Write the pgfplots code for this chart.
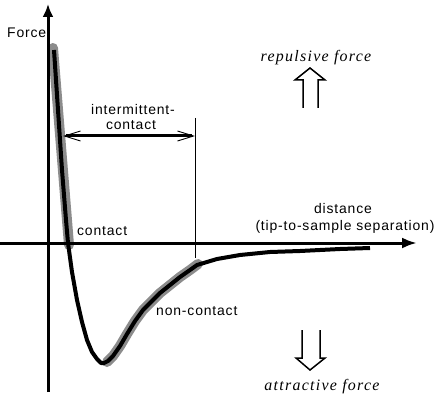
\documentclass[border=0pt]{standalone}
\usepackage{pgfplots}
\pgfplotsset{compat=1.18}
\usetikzlibrary{arrows.meta}
\usepackage{fontspec}
\setmainfont{Liberation Sans}[LetterSpace=6]
\newfontfamily\serifit{Liberation Serif}[LetterSpace=8]
\definecolor{band}{RGB}{140,140,140}
\begin{document}
\begin{tikzpicture}
\begin{axis}[
  scale only axis, width=440bp, height=402bp,
  xmin=-48, xmax=392, ymin=-159, ymax=243,
  hide axis, clip=false,
]
% grey highlighted regions
\addplot[band, line width=10bp, line cap=round] coordinates {(5,195) (21,-2)};
\addplot[band, line width=10bp, line cap=round] coordinates {
(59,-119) (65,-113) (72,-103) (79,-91) (87,-78) (95,-67) (104,-58) (112,-50) (122,-42) (132,-34) (142,-27) (150,-21)};
% axes
\draw[line width=3bp, -{Latex[length=15bp,width=11bp]}] (axis cs:-48,0) -- (axis cs:369,0);
\draw[line width=3bp, -{Latex[length=13bp,width=11bp]}] (axis cs:0,-149) -- (axis cs:0,239);
% force curve
\addplot[black, line width=4bp, line join=round] coordinates {
(6,193) (10,133) (14,73) (18,23) (20,0) (24,-29) (29,-57) (34,-79) (39,-97) (44,-109) (49,-116) (53,-120) (56,-120) (60,-118) (65,-113) (72,-103) (79,-91) (87,-78) (95,-67) (104,-58) (112,-50) (122,-42) (132,-34) (142,-27) (149,-22) (159,-19) (169,-16) (192,-12) (222,-9) (252,-8) (292,-6) (322,-5)};
% intermittent-contact marker
\draw[line width=1bp] (axis cs:147,125) -- (axis cs:147,-15);
\draw[line width=3bp] (axis cs:18,107) -- (axis cs:144,107);
\draw[line width=0.9bp, {Straight Barb[length=16bp,width=10bp]}-{Straight Barb[length=16bp,width=10bp]}] (axis cs:15,107) -- (axis cs:147,107);
% repulsive/attractive arrows
\draw[line width=1.5bp, line join=miter] (axis cs:255,135) -- (axis cs:255,163) -- (axis cs:247,163) -- (axis cs:262,175) -- (axis cs:277,163) -- (axis cs:270,163) -- (axis cs:270,135);
\draw[line width=1.5bp, line join=miter] (axis cs:254,-87) -- (axis cs:254,-115) -- (axis cs:248,-115) -- (axis cs:262,-127) -- (axis cs:277,-115) -- (axis cs:272,-115) -- (axis cs:272,-87);
% labels
\begin{scope}[font=\fontsize{14}{16}\selectfont]
\node[anchor=base west, inner sep=0pt] at (axis cs:-41,205) {Force};
\node[anchor=base, inner sep=0pt] at (axis cs:85,128) {intermittent-};
\node[anchor=base, inner sep=0pt] at (axis cs:83,113) {contact};
\node[anchor=base west, inner sep=0pt] at (axis cs:29,8) {contact};
\node[anchor=base west, inner sep=0pt] at (axis cs:108,-72) {non-contact};
\node[anchor=base, inner sep=0pt] at (axis cs:295,30) {distance};
\node[anchor=base, inner sep=0pt] at (axis cs:297,13) {(tip-to-sample separation)};
\end{scope}
\begin{scope}[font=\fontsize{16}{18}\selectfont\serifit\itshape]
\node[anchor=base, inner sep=0pt] at (axis cs:268,181) {repulsive force};
\node[anchor=base, inner sep=0pt] at (axis cs:274,-147) {attractive force};
\end{scope}
\end{axis}
\pgfresetboundingbox
\path (current axis.south west) rectangle (current axis.north east);
\end{tikzpicture}
\end{document}
